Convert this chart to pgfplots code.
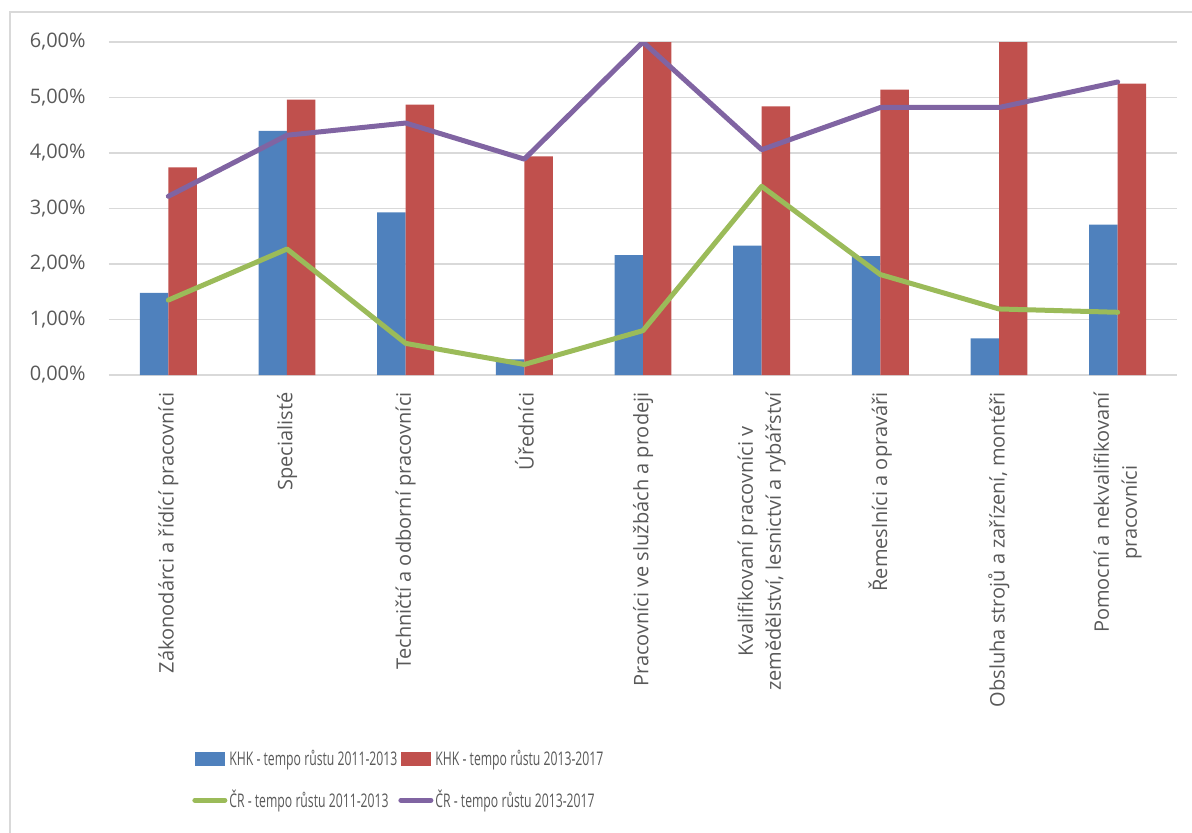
\documentclass[border=0pt]{standalone}
\usepackage{pgfplots}
\pgfplotsset{compat=1.18}
\usepackage{fontspec}
\setmainfont{Open Sans}
\newfontfamily\legfont[FakeStretch=0.65]{Open Sans}
\definecolor{cblue}{HTML}{4F81BD}
\definecolor{cred}{HTML}{C0504D}
\definecolor{cgreen}{HTML}{9BBB59}
\definecolor{cpurple}{HTML}{8064A2}
\definecolor{ctext}{HTML}{595959}
\definecolor{cgrid}{HTML}{D9D9D9}
\begin{document}
\begin{tikzpicture}
\useasboundingbox (0,0) rectangle (596pt,416pt);
\draw[cgrid, line width=0.8pt] (5pt,-2pt) -- (5pt,410pt) -- (600pt,410pt);
\begin{axis}[
  at={(54.5pt,228.5pt)}, anchor=south west,
  scale only axis, width=534pt, height=166.5pt,
  xmin=-0.5, xmax=8.5, ymin=0, ymax=6,
  axis line style={draw=none},
  major tick length=0pt,
  ymajorgrids, grid style={cgrid, line width=0.75pt},
  ytick={0,1,2,3,4,5,6},
  yticklabels={{0,00\%},{1,00\%},{2,00\%},{3,00\%},{4,00\%},{5,00\%},{6,00\%}},
  yticklabel style={anchor=east, inner sep=0pt, xshift=-11.5pt, text=ctext, font=\fontsize{10}{12}\selectfont},
  xtick={0,1,2,3,4,5,6,7,8},
  xticklabels={{Zákonodárci a řídící pracovníci},{Specialisté},{Techničtí a odborní pracovníci},{Úředníci},{Pracovníci ve službách a prodeji},{Kvalifikovaní pracovníci v\\zemědělství, lesnictví a rybářství},{Řemeslníci a opraváři},{Obsluha strojů a zařízení, montéři},{Pomocní a nekvalifikovaní\\pracovníci}},
  xticklabel style={rotate=90, anchor=east, align=center, inner sep=0pt, text=ctext, font=\fontsize{10}{14}\selectfont},
  xticklabel shift=8.5pt,
  clip=true,
  legend columns=2,
  legend cell align=left,
  legend style={draw=none, fill=none, at={(0.0777,-1.112)}, anchor=north west,
    font=\legfont\fontsize{9.4}{11}\selectfont, text=ctext, inner sep=0pt,
    row sep=7pt,
    /tikz/every odd column/.append style={column sep=-1pt},
    /tikz/every even column/.append style={column sep=-1.5pt}},
]
\addplot[ybar, bar width=0.24, bar shift=-0.12, fill=cblue, draw=none,
  legend image code/.code={\fill[cblue] (0pt,-3.5pt) rectangle (15pt,3.5pt);}]
  coordinates {(0,1.48) (1,4.40) (2,2.93) (3,0.28) (4,2.16) (5,2.33) (6,2.14) (7,0.66) (8,2.71)};
\addlegendentry{KHK - tempo růstu 2011-2013}
\addplot[ybar, bar width=0.24, bar shift=0.12, fill=cred, draw=none,
  legend image code/.code={\fill[cred] (0pt,-3.5pt) rectangle (15pt,3.5pt);}]
  coordinates {(0,3.74) (1,4.96) (2,4.87) (3,3.94) (4,6.00) (5,4.84) (6,5.14) (7,6.00) (8,5.25)};
\addlegendentry{KHK - tempo růstu 2013-2017}
\addplot[cgreen, line width=2.5pt, line join=round, line cap=round, mark=none,
  legend image code/.code={\draw[cgreen, line width=2.5pt, line cap=round] (0pt,0pt) -- (15pt,0pt);}]
  coordinates {(0,1.35) (1,2.27) (2,0.57) (3,0.19) (4,0.80) (5,3.40) (6,1.81) (7,1.19) (8,1.13)};
\addlegendentry{ČR - tempo růstu 2011-2013}
\addplot[cpurple, line width=2.5pt, line join=round, line cap=round, mark=none,
  legend image code/.code={\draw[cpurple, line width=2.5pt, line cap=round] (0pt,0pt) -- (15pt,0pt);}]
  coordinates {(0,3.22) (1,4.32) (2,4.54) (3,3.89) (4,6.00) (5,4.06) (6,4.82) (7,4.82) (8,5.28)};
\addlegendentry{ČR - tempo růstu 2013-2017}
\end{axis}
\end{tikzpicture}
\end{document}
